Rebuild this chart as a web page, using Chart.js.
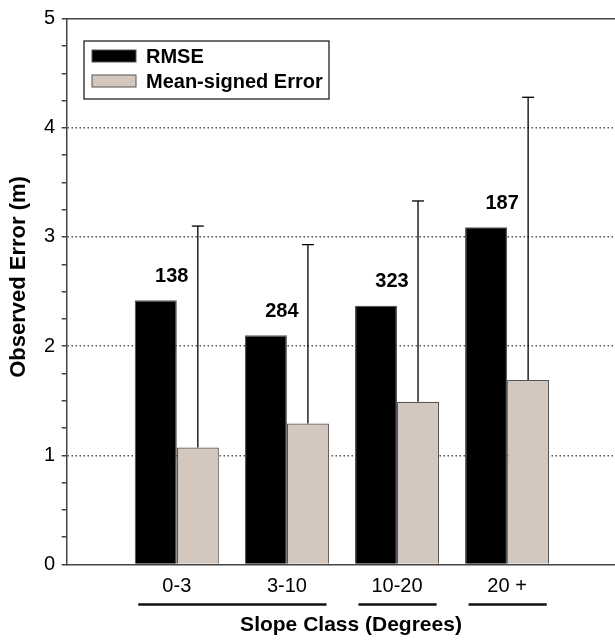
<!DOCTYPE html>
<html>
<head>
<meta charset="utf-8">
<script src="https://cdn.jsdelivr.net/npm/chart.js@4.4.1/dist/chart.umd.min.js"></script>
<style>
  html, body { margin: 0; padding: 0; background: #fff; }
  #wrap { width: 615px; height: 640px; }
</style>
</head>
<body>
<div id="wrap"><canvas id="chart"></canvas></div>
<script>
const categories = ['0-3', '3-10', '10-20', '20 +']
const rmse = [2.42, 2.10, 2.37, 3.09]
const meanSigned = [1.07, 1.29, 1.49, 1.69]
const errorUpper = [3.10, 2.93, 3.33, 4.28]
const sampleCounts = ['138', '284', '323', '187']
// which categories share an underline below the tick labels
const bracketGroups = [[0, 1], [2, 2], [3, 3]]

const FONT = '"Liberation Sans", Arial, Helvetica, sans-serif'
const AXIS = '#444'

function toPoints(values) {
  return values.map((v, i) => ({ x: i + 1, y: v }))
}

function line(ctx, x1, y1, x2, y2) {
  ctx.beginPath()
  ctx.moveTo(x1, y1)
  ctx.lineTo(x2, y2)
  ctx.stroke()
}

const decorations = {
  id: 'decorations',
  afterDatasetsDraw(chart) {
    const ctx = chart.ctx
    const x = chart.scales.x
    const y = chart.scales.y
    const area = chart.chartArea
    const rmseBars = chart.getDatasetMeta(0).data
    const mseBars = chart.getDatasetMeta(1).data

    ctx.save()
    ctx.strokeStyle = AXIS
    ctx.lineWidth = 1.5
    line(ctx, area.left, area.top, area.right, area.top)

    // error bars
    ctx.strokeStyle = '#000'
    ctx.lineWidth = 1.3
    mseBars.forEach((bar, i) => {
      const top = y.getPixelForValue(errorUpper[i])
      line(ctx, bar.x, bar.y, bar.x, top)
      line(ctx, bar.x - 6, top, bar.x + 6, top)
    })

    // sample counts
    ctx.fillStyle = '#000'
    ctx.font = 'bold 20px ' + FONT
    ctx.textAlign = 'center'
    ctx.textBaseline = 'middle'
    rmseBars.forEach((bar, i) => {
      ctx.fillText(sampleCounts[i], x.getPixelForValue(i + 1) - 5, bar.y - 24)
    })

    // underlines below the category labels
    ctx.strokeStyle = '#111'
    ctx.lineWidth = 2.5
    const by = x.top + 40
    bracketGroups.forEach(g => {
      line(ctx, x.getPixelForValue(g[0] + 0.65), by, x.getPixelForValue(g[1] + 1.36), by)
    })

    // axis titles
    ctx.font = 'bold 21px ' + FONT
    ctx.fillText('Slope Class (Degrees)', 351, 625)
    ctx.save()
    ctx.translate(19, 277)
    ctx.rotate(-Math.PI / 2)
    ctx.font = 'bold 22px ' + FONT
    ctx.fillText('Observed Error (m)', 0, 0)
    ctx.restore()

    // legend
    const lx = 84, ly = 41
    ctx.fillStyle = '#fff'
    ctx.fillRect(lx, ly, 245, 58)
    ctx.strokeStyle = '#222'
    ctx.lineWidth = 1.3
    ctx.strokeRect(lx, ly, 245, 58)
    ctx.font = 'bold 20px ' + FONT
    ctx.textAlign = 'left'
    chart.data.datasets.forEach((ds, i) => {
      const sy = ly + 9 + i * 25
      ctx.fillStyle = ds.backgroundColor
      ctx.fillRect(lx + 8, sy, 44, 12)
      ctx.strokeStyle = '#555'
      ctx.lineWidth = 1
      ctx.strokeRect(lx + 8, sy, 44, 12)
      ctx.fillStyle = '#000'
      ctx.fillText(ds.label, lx + 62, sy + 7)
    })
    ctx.restore()
  }
}

new Chart(document.getElementById('chart'), {
  type: 'bar',
  data: {
    datasets: [{
      label: 'RMSE',
      data: toPoints(rmse),
      backgroundColor: '#000',
      borderColor: '#555',
      borderWidth: 1.2
    }, {
      label: 'Mean-signed Error',
      data: toPoints(meanSigned),
      backgroundColor: '#d4c7be',
      borderColor: '#555',
      borderWidth: 1.2
    }]
  },
  options: {
    responsive: true,
    maintainAspectRatio: false,
    animation: false,
    categoryPercentage: 0.764,
    barPercentage: 1,
    layout: { padding: { top: 14.5, right: 0, left: 0, bottom: 0 } },
    plugins: {
      legend: { display: false },
      tooltip: { enabled: false }
    },
    scales: {
      x: {
        type: 'linear',
        offset: false,
        min: 0,
        max: 4.98,
        afterFit: s => { s.height = 75.6 },
        afterBuildTicks: s => { s.ticks = categories.map((c, i) => ({ value: i + 1 })) },
        grid: { display: false, drawTicks: false, offset: false },
        border: { display: true, color: AXIS, width: 1.5 },
        ticks: {
          callback: v => categories[v - 1],
          color: '#000',
          padding: 10,
          font: { family: FONT, size: 20 }
        }
      },
      y: {
        min: 0,
        max: 5,
        afterFit: s => { s.width = 66.7 },
        grid: {
          color: c => (c.tick && [1, 2, 3, 4].includes(c.tick.value)) ? '#555' : 'rgba(0,0,0,0)',
          lineWidth: 1.5,
          tickColor: AXIS,
          tickLength: 5,
          tickWidth: 1.5
        },
        border: { display: true, color: AXIS, width: 1.5, dash: [1.5, 2.5] },
        ticks: {
          stepSize: 0.25,
          autoSkip: false,
          padding: 6.7,
          color: '#000',
          font: { family: FONT, size: 20 },
          callback: v => Number.isInteger(v) ? v : ''
        }
      }
    }
  },
  plugins: [decorations]
})
</script>
</body>
</html>
